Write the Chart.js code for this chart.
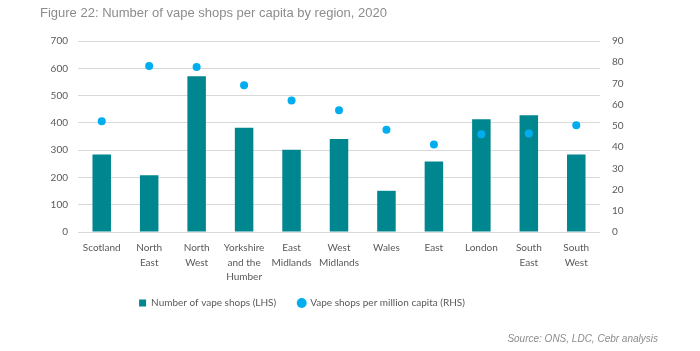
<!DOCTYPE html>
<html>
<head>
<meta charset="utf-8">
<script src="https://cdn.jsdelivr.net/npm/chart.js@4"></script>
<style>
  body { margin: 0; background: #fff; }
  #wrap { position: relative; width: 700px; height: 351px; }
  #title { position: absolute; left: 40px; top: 5px; font: 13px "Liberation Sans", Arial, sans-serif; color: #8c8c8c; white-space: nowrap; }
  #source { position: absolute; right: 42px; top: 333px; font: italic 10px "Liberation Sans", Arial, sans-serif; color: #8c8c8c; white-space: nowrap; }
  canvas { position: absolute; left: 0; top: 0; }
</style>
</head>
<body>
<div id="wrap">
  <canvas id="myChart" width="700" height="351"></canvas>
  <div id="title">Figure 22: Number of vape shops per capita by region, 2020</div>
  <div id="source">Source: ONS, LDC, Cebr analysis</div>
</div>
<script>
// Regions (multi-line labels as in the figure)
const regions = [
    ['Scotland'], ['North', 'East'], ['North', 'West'], ['Yorkshire', 'and the', 'Humber'],
    ['East', 'Midlands'], ['West', 'Midlands'], ['Wales'], ['East'], ['London'],
    ['South', 'East'], ['South', 'West']
];
// Number of vape shops (LHS)
const shopCounts = [284, 208, 571, 382, 301, 341, 151, 258, 413, 428, 284];
// Vape shops per million capita (RHS)
const shopsPerMillion = [52.2, 78.2, 77.7, 69.2, 62, 57.4, 48.2, 41.2, 46.1, 46.4, 50.3];

const tickFont = { family: 'Lato, "Open Sans", sans-serif', size: 10 };
const tickColor = '#595959';

// move the legend so it sits where the original one is
const legendShift = {
    id: 'legendShift',
    afterLayout(chart) {
        const l = chart.legend;
        l.left = 0;
        l.right = 604;
        l.top = 276;
        l.bottom = l.top + l.height;
    }
};

const ctx = document.getElementById('myChart');
new Chart(ctx, {
    data: {
        labels: regions,
        datasets: [{
            type: 'line',
            label: 'Vape shops per million capita (RHS)',
            data: shopsPerMillion,
            yAxisID: 'y1',
            showLine: false,
            pointRadius: 4,
            pointBackgroundColor: '#00aeef',
            pointBorderWidth: 0,
            backgroundColor: '#00aeef',
            borderColor: '#00aeef',
            pointStyle: 'circle',
            order: 0
        }, {
            type: 'bar',
            label: 'Number of vape shops (LHS)',
            data: shopCounts,
            yAxisID: 'y',
            backgroundColor: '#00868f',
            barPercentage: 0.39,
            categoryPercentage: 1,
            pointStyle: 'rect',
            order: 1
        }]
    },
    options: {
        responsive: false,
        animation: false,
        layout: { padding: { left: 30, right: 60, top: 41, bottom: 19 } },
        plugins: {
            legend: {
                position: 'bottom',
                reverse: true,
                labels: {
                    usePointStyle: true,
                    boxWidth: 7,
                    boxHeight: 7,
                    padding: 22,
                    font: tickFont,
                    color: tickColor
                }
            },
            tooltip: { enabled: false }
        },
        scales: {
            x: {
                grid: { display: false },
                border: { display: false },
                ticks: { font: { ...tickFont, lineHeight: 1.45 }, color: tickColor, maxRotation: 0, autoSkip: false, padding: 1 },
                afterFit: axis => { axis.height = 58; }
            },
            y: {
                position: 'left',
                min: 0, max: 700,
                ticks: { stepSize: 100, font: tickFont, color: tickColor, padding: 10 },
                grid: { color: '#d9d9d9', drawTicks: false },
                border: { display: false },
                afterFit: axis => { axis.width = 48; }
            },
            y1: {
                position: 'right',
                min: 0, max: 90,
                ticks: { stepSize: 10, font: tickFont, color: tickColor, padding: 4 },
                grid: { display: false },
                border: { display: false },
                afterFit: axis => { axis.width = 40; }
            }
        }
    },
    plugins: [legendShift]
});
</script>
</body>
</html>
